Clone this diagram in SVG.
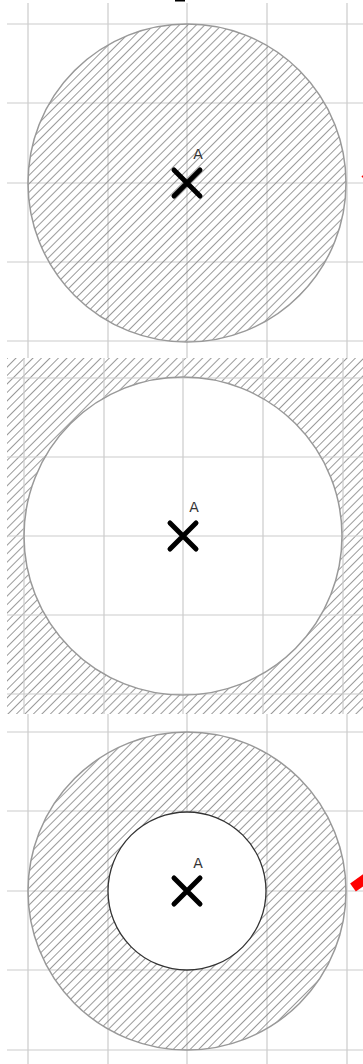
<svg xmlns="http://www.w3.org/2000/svg" width="363" height="1064" viewBox="0 0 363 1064">
<style>
.grid{stroke:#cccccc;stroke-width:1.2;fill:none}
.ring{stroke:#999999;stroke-width:1.5}
.hatch{fill:url(#hatch)}
.mark{stroke:#000;stroke-width:5;stroke-linecap:round}
.lbl{font-family:"DejaVu Sans",sans-serif;font-size:14px;fill:#333;text-anchor:middle}
.red{stroke:#ff0000;fill:none}
</style>
<defs>
<pattern id="hatch" patternUnits="userSpaceOnUse" width="6" height="6" patternTransform="rotate(45)">
<line x1="0" y1="0" x2="0" y2="6" stroke="#808080" stroke-width="1.6"/>
</pattern>
</defs>
<rect width="363" height="1064" fill="#ffffff"/>
<g id="panel1">
<g class="grid">
<path d="M28 3V358M108 3V358M187 3V358M267 3V358M347 3V358"/>
<path d="M7 24H363M7 103H363M7 183H363M7 262H363M7 341H363"/>
</g>
<circle cx="187" cy="183" r="159" class="hatch ring"/>
<path d="M174 170L200 196M200 170L174 196" class="mark"/>
<text x="198" y="159" class="lbl">A</text>
<rect x="175" y="0" width="10" height="1.5" fill="#000"/>
<line x1="362" y1="177" x2="368" y2="173" class="red" stroke-width="2"/>
</g>
<g id="panel2">
<path d="M7 358H363V714H7Z M183 377A159 159 0 1 0 183 695A159 159 0 1 0 183 377Z" class="hatch" fill-rule="evenodd"/>
<g class="grid">
<path d="M24 358V714M104 358V714M183 358V714M263 358V714M343 358V714"/>
<path d="M7 378H363M7 457H363M7 536H363M7 615H363M7 694H363"/>
</g>
<circle cx="183" cy="536" r="159" fill="none" class="ring"/>
<path d="M170 523L196 549M196 523L170 549" class="mark"/>
<text x="194" y="512" class="lbl">A</text>
</g>
<g id="panel3">
<g class="grid">
<path d="M28 714V1064M108 714V1064M187 714V1064M267 714V1064M347 714V1064"/>
<path d="M7 732H363M7 811H363M7 891H363M7 970H363M7 1050H363"/>
</g>
<circle cx="187" cy="891" r="159" class="hatch ring"/>
<circle cx="187" cy="891" r="79" fill="#ffffff" stroke="#333333" stroke-width="1.3"/>
<path d="M174 878L200 904M200 878L174 904" class="mark"/>
<text x="198" y="868" class="lbl">A</text>
</g>
<g id="connectors">
<line x1="353" y1="887.5" x2="385" y2="865" class="red" stroke-width="10"/>
</g>
</svg>
